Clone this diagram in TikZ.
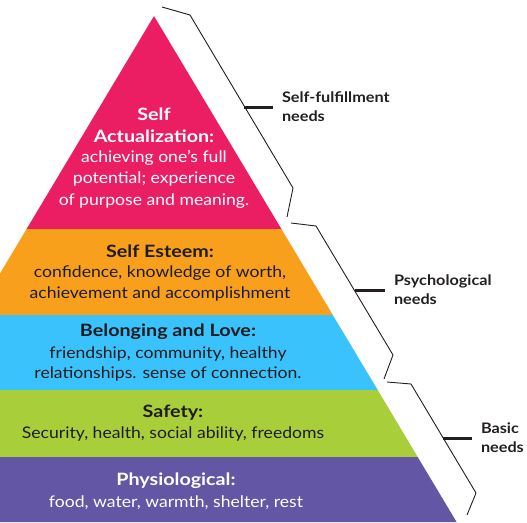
\documentclass[tikz,border=0pt]{standalone}
\usepackage{fontspec}
\setmainfont{Lato}
\newfontfamily\bodyfont[FakeStretch=1.1]{Lato}
\newfontfamily\headfont[FakeStretch=1.16]{Lato}
\newfontfamily\groupfont[FakeStretch=1.12]{Lato}
\begin{document}
\begin{tikzpicture}[x=1pt,y=-1pt,
  title/.style={anchor=base,inner sep=0pt,font=\headfont\fontsize{17}{20}\selectfont\bfseries},
  body/.style={anchor=base,inner sep=0pt,font=\bodyfont\fontsize{16}{20}\selectfont},
  lbl/.style={anchor=west,align=left,inner xsep=9pt,inner ysep=0pt,outer sep=0pt,
    text=labelink,font=\groupfont\fontsize{14.5}{19}\selectfont\bfseries},
  brace/.style={draw=labelink,line width=0.9pt,line join=miter},
  tick/.style={draw=labelink,line width=3pt}]
\definecolor{pinkL}{RGB}{236,30,99}
\definecolor{orangeL}{RGB}{248,160,28}
\definecolor{blueL}{RGB}{58,194,253}
\definecolor{greenL}{RGB}{168,206,57}
\definecolor{purpleL}{RGB}{99,86,164}
\definecolor{bodyink}{RGB}{30,28,30}
\definecolor{labelink}{RGB}{35,31,32}
\useasboundingbox (0,0) rectangle (527,522);

% pyramid layers, cut off at the picture edge
\begin{scope}
\clip (0,0) rectangle (527,522);
\fill[pinkL]   (154,16) -- (281.4,229) -- (26.6,229) -- cycle;
\fill[orangeL] (26.6,229) -- (281.4,229) -- (332.8,315) -- (-24.8,315) -- cycle;
\fill[blueL]   (-24.8,315) -- (332.8,315) -- (377.7,390) -- (-69.7,390) -- cycle;
\fill[greenL]  (-69.7,390) -- (377.7,390) -- (417.7,457) -- (-109.7,457) -- cycle;
\fill[purpleL] (-109.7,457) -- (417.7,457) -- (456.6,522) -- (-148.6,522) -- cycle;
\end{scope}

% layer texts
\node[title,text=white] (saT) at (154,120) {Self};
\node[title,text=white] (saT2) at (154,142) {Actualization:};
\node[body,text=white] (saB1) at (154,162) {achieving one’s full};
\node[body,text=white] (saB2) at (154,183) {potential; experience};
\node[body,text=white] (saB3) at (154,205) {of purpose and meaning.};

\node[title,text=bodyink] (seT) at (160,257) {Self Esteem:};
\node[body,text=bodyink] (seB1) at (160,277) {confidence, knowledge of worth,};
\node[body,text=bodyink] (seB2) at (160,298) {achievement and accomplishment};

\node[title,text=bodyink] (blT) at (168,336) {Belonging and Love:};
\node[body,text=bodyink] (blB1) at (168,358) {friendship, community, healthy};
\node[body,text=bodyink] (blB2) at (168,378) {relationships. sense of connection.};

\node[title,text=bodyink] (sfT) at (173,417) {Safety:};
\node[body,text=bodyink] (sfB1) at (173,438) {Security, health, social ability, freedoms};

\node[title,text=white] (phT) at (176,485) {Physiological:};
\node[body,text=white] (phB1) at (176,507) {food, water, warmth, shelter, rest};

% group braces
\draw[brace] (162,7) -- (190,15) -- (293,188) -- (287,217);
\draw[brace] (291,223) -- (316,226) -- (393,355) -- (384,379);
\draw[brace] (387,382) -- (411,384) -- (476,493) -- (467,515);

% group labels and their ticks
\coordinate (b1) at (244,107);
\coordinate (b2) at (355,290);
\coordinate (b3) at (443,438);
\node[lbl] (l1) at (273,107) {Self-fulfillment\\needs};
\node[lbl] (l2) at (385,290) {Psychological\\needs};
\node[lbl] (l3) at (472,438) {Basic\\needs};
\draw[tick] (b1) -- (l1.west);
\draw[tick] (b2) -- (l2.west);
\draw[tick] (b3) -- (l3.west);
\end{tikzpicture}
\end{document}
